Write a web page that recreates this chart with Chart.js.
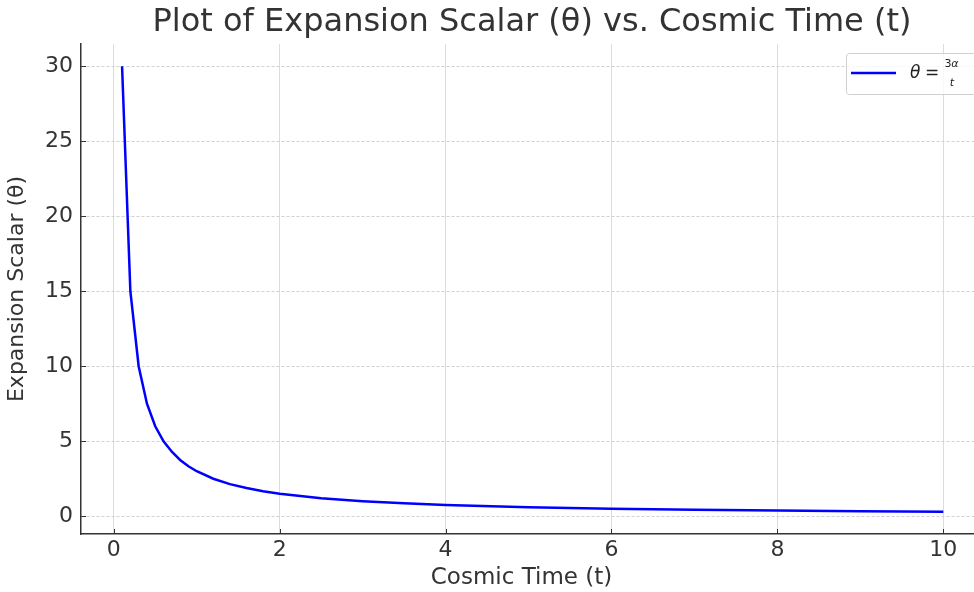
<!DOCTYPE html>
<html>
<head>
<meta charset="utf-8">
<script src="https://cdn.jsdelivr.net/npm/chart.js@4/dist/chart.umd.min.js"></script>
<style>
  html, body { margin: 0; padding: 0; background: #fff; }
  #wrap { width: 974px; height: 592px; }
</style>
</head>
<body>
<div id="wrap"><canvas id="c" width="974" height="592"></canvas></div>
<script>
// values
const timeT = [0.1, 0.2, 0.3, 0.4, 0.5, 0.6, 0.7, 0.8, 0.9, 1.0, 1.2, 1.4, 1.6, 1.8, 2.0, 2.5, 3.0, 3.5, 4.0, 5.0, 6.0, 7.0, 8.0, 9.0, 10.0];
const thetaVals = [30, 15, 10, 7.5, 6, 5, 4.3, 3.75, 3.33, 3, 2.5, 2.14, 1.88, 1.67, 1.5, 1.2, 1, 0.86, 0.75, 0.6, 0.5, 0.43, 0.38, 0.33, 0.3];
const xTicks = [0, 2, 4, 6, 8, 10];
const yTicks = [0, 5, 10, 15, 20, 25, 30];

const FONT = '"DejaVu Sans", sans-serif';
const TXT = '#333';

const points = timeT.map((t, i) => ({ x: t, y: thetaVals[i] }));

// title, x label, inward tick marks and the mathtext-style legend
const decor = {
  id: 'decor',
  afterDraw(chart) {
    const ctx = chart.ctx, a = chart.chartArea;
    const xs = chart.scales.x, ys = chart.scales.y;
    ctx.save();
    ctx.fillStyle = TXT; ctx.textAlign = 'center'; ctx.textBaseline = 'middle';
    ctx.font = `32px ${FONT}`;
    ctx.fillText('Plot of Expansion Scalar (θ) vs. Cosmic Time (t)', 532, 23);
    ctx.font = `23px ${FONT}`;
    ctx.fillText('Cosmic Time (t)', (a.left + a.right) / 2 - 6, 578);

    // ticks point inward like the original
    ctx.strokeStyle = '#333'; ctx.lineWidth = 1;
    ctx.beginPath();
    xTicks.forEach(v => { const p = Math.round(xs.getPixelForValue(v)) + 0.5; ctx.moveTo(p, a.bottom); ctx.lineTo(p, a.bottom - 5); });
    yTicks.forEach(v => { const p = Math.round(ys.getPixelForValue(v)) + 0.5; ctx.moveTo(a.left, p); ctx.lineTo(a.left + 5, p); });
    ctx.stroke();

    // legend box
    const bx = 846, by = 53, bw = 130, bh = 41;
    ctx.fillStyle = 'rgba(255,255,255,0.8)'; ctx.strokeStyle = '#d0d0d0';
    ctx.beginPath(); ctx.roundRect(bx + 0.5, by + 0.5, bw, bh, 3); ctx.fill(); ctx.stroke();
    ctx.strokeStyle = '#0000ff'; ctx.lineWidth = 2.5;
    ctx.beginPath(); ctx.moveTo(851, 73); ctx.lineTo(896, 73); ctx.stroke();
    ctx.fillStyle = '#222'; ctx.textAlign = 'left';
    ctx.font = `italic 17px ${FONT}`;
    ctx.fillText('θ', 910, 74);
    ctx.font = `17px ${FONT}`;
    ctx.fillText('=', 925, 74);
    ctx.textAlign = 'center';
    ctx.font = `11px ${FONT}`;
    ctx.fillText('3', 948, 64);
    ctx.font = `italic 11px ${FONT}`;
    ctx.fillText('α', 955, 64);
    ctx.fillText('t', 952, 83);
    ctx.restore();
  }
};

new Chart(document.getElementById('c'), {
  type: 'line',
  data: {
    datasets: [{
      label: 'θ = 3α/t',
      data: points,
      borderColor: '#0000ff',
      borderWidth: 2.5,
      pointRadius: 0,
      tension: 0,
      fill: false
    }]
  },
  options: {
    responsive: false,
    animation: false,
    layout: { padding: { top: 44, right: 0, left: 0, bottom: 0 } },
    plugins: { legend: { display: false }, title: { display: false }, tooltip: { enabled: false } },
    scales: {
      x: {
        type: 'linear',
        min: -0.395, max: 10.37,
        afterFit: s => { s.height = 58; },
        afterBuildTicks: s => { s.ticks = xTicks.map(v => ({ value: v })); },
        ticks: { color: TXT, font: { family: FONT, size: 22 }, padding: 3, maxRotation: 0 },
        grid: { color: '#dcdcdc', lineWidth: 1, drawTicks: false },
        border: { color: '#333', width: 1.5 }
      },
      y: {
        type: 'linear',
        min: -1.185, max: 31.485,
        afterFit: s => { s.width = 81; },
        afterBuildTicks: s => { s.ticks = yTicks.map(v => ({ value: v })); },
        ticks: { color: TXT, font: { family: FONT, size: 22 }, padding: 8 },
        grid: { color: '#d0d0d0', lineWidth: 1, drawTicks: false },
        border: { color: '#333', width: 1.5, dash: [3, 2] },
        title: { display: true, text: 'Expansion Scalar (θ)', color: TXT, font: { family: FONT, size: 22 }, padding: { top: 4, bottom: 0 } }
      }
    }
  },
  plugins: [decor]
});
</script>
</body>
</html>
